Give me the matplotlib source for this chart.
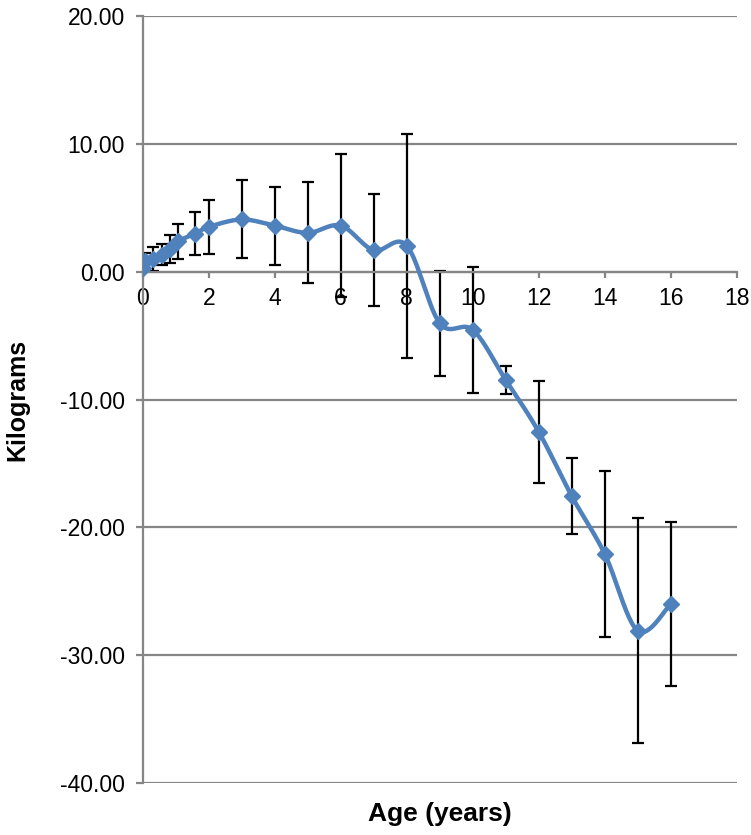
import numpy as np
import matplotlib
matplotlib.use("Agg")
import matplotlib.pyplot as plt

plt.rcParams['font.family'] = ['Liberation Sans', 'DejaVu Sans']

# values
ages = [0, 0.07, 0.32, 0.57, 0.82, 1.07, 1.58, 2, 3, 4, 5, 6, 7, 8, 9, 10, 11, 12, 13, 14, 15, 16]
means = [0.3, 0.8, 1.0, 1.33, 1.78, 2.38, 2.96, 3.5, 4.08, 3.6, 3.03, 3.6, 1.67, 2.04,
         -4.03, -4.55, -8.47, -12.52, -17.55, -22.07, -28.08, -25.99]
errs = [0.2, 0.65, 0.94, 0.8, 1.08, 1.37, 1.67, 2.13, 3.05, 3.05, 3.95, 5.58, 4.37, 8.76,
        4.1, 4.9, 1.1, 4.0, 3.0, 6.5, 8.8, 6.4]
yticks = [20, 10, 0, -10, -20, -30, -40]
xticks = [0, 2, 4, 6, 8, 10, 12, 14, 16, 18]


def smooth(x, y, n=30):
    # Excel-style smoothed line (Catmull-Rom as cubic bezier)
    x = np.asarray(x, float)
    y = np.asarray(y, float)
    px, py = [], []
    for i in range(len(x) - 1):
        i0 = max(i - 1, 0)
        i3 = min(i + 2, len(x) - 1)
        c1x = x[i] + (x[i + 1] - x[i0]) / 6
        c1y = y[i] + (y[i + 1] - y[i0]) / 6
        c2x = x[i + 1] - (x[i3] - x[i]) / 6
        c2y = y[i + 1] - (y[i3] - y[i]) / 6
        t = np.linspace(0, 1, n)
        px.extend((1-t)**3*x[i] + 3*(1-t)**2*t*c1x + 3*(1-t)*t**2*c2x + t**3*x[i+1])
        py.extend((1-t)**3*y[i] + 3*(1-t)**2*t*c1y + 3*(1-t)*t**2*c2y + t**3*y[i+1])
    return px, py


fig = plt.figure(figsize=(7.51, 8.35), dpi=100)
ax = fig.add_axes([0.190, 0.062, 0.791, 0.919])

grey = '#868686'
blue = '#4F81BD'

ax.set_xlim(0, 18)
ax.set_ylim(-40, 20)
ax.set_yticks(yticks)
ax.set_yticklabels(['%.2f' % v for v in yticks])
ax.set_xticks(xticks)
ax.yaxis.grid(True, color=grey, linewidth=1.6)
ax.set_axisbelow(True)

for s in ['top', 'right']:
    ax.spines[s].set_visible(False)
ax.spines['left'].set_color(grey)
ax.spines['left'].set_linewidth(1.6)
ax.spines['bottom'].set_position(('data', 0))
ax.spines['bottom'].set_color(grey)
ax.spines['bottom'].set_linewidth(1.6)

ax.tick_params(axis='y', direction='out', length=5, width=1.6, color=grey,
               labelsize=16.5, pad=8)
ax.tick_params(axis='x', direction='out', length=4, width=1.6, color=grey,
               labelsize=16.5, pad=7)

ax.errorbar(ages, means, yerr=errs, fmt='none', ecolor='black', elinewidth=1.6,
            capsize=4, capthick=1.6, zorder=2)
sx, sy = smooth(ages, means)
ax.plot(sx, sy, color=blue, linewidth=3.2, zorder=3)
ax.plot(ages, means, linestyle='none', marker='D', markersize=8.5, color=blue, zorder=4)

ax.set_xlabel('Age (years)', fontsize=19, fontweight='bold')
ax.xaxis.set_label_coords(0.5, -0.024)
ax.xaxis.label.set_va('top')
ax.set_ylabel('Kilograms', fontsize=18, fontweight='bold')
ax.yaxis.set_label_coords(-0.19, 0.5)

fig.savefig('out.png', dpi=100)
